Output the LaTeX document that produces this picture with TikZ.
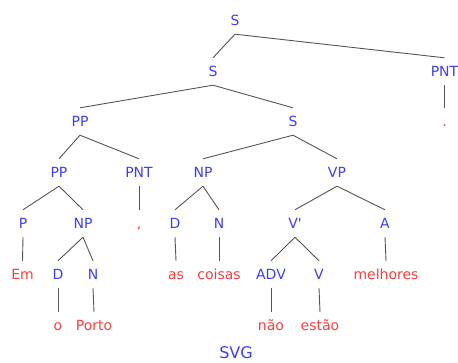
\documentclass[tikz,border=0pt]{standalone}
\usepackage{fontspec}
\setmainfont{DejaVu Sans}
\definecolor{ntblue}{RGB}{60,60,255}
\definecolor{twred}{RGB}{255,60,60}
\definecolor{edgegray}{RGB}{85,85,85}
\begin{document}
\begin{tikzpicture}[x=1pt,y=-1pt,
  lab/.style={inner xsep=0pt,inner ysep=8pt,text height=11pt,text depth=0pt,
    font=\fontsize{14}{16}\selectfont},
  nt/.style={lab,text=ntblue},
  tw/.style={lab,text=twred},
  edge/.style={draw=edgegray,line width=0.9pt}]
\useasboundingbox (0,0) rectangle (458,363);
% row 1
\node[nt] (s0) at (235,20.5) {S};
% row 2
\node[nt] (s1) at (213,71.5) {S};
\node[nt] (pnt1) at (444.5,71.5) {PNT};
% row 3
\node[nt] (pp1) at (80,121.5) {PP};
\node[nt] (s2) at (293,121.5) {S};
\node[tw] (dot) at (444.5,121.5) {.};
% row 4
\node[nt] (pp2) at (59,172.5) {PP};
\node[nt] (pnt2) at (139,172.5) {PNT};
\node[nt] (np1) at (203,172.5) {NP};
\node[nt] (vp) at (337,172.5) {VP};
% row 5
\node[nt] (p) at (23,223.5) {P};
\node[nt] (np2) at (83,223.5) {NP};
\node[tw] (comma) at (139,223.5) {,};
\node[nt] (d1) at (175,223.5) {D};
\node[nt] (n1) at (219,223.5) {N};
\node[nt] (vbar) at (295,223.5) {V\textquotesingle};
\node[nt] (a) at (385,223.5) {A};
% row 6
\node[tw] (em) at (22.5,274.5) {Em};
\node[nt] (d2) at (58,274.5) {D};
\node[nt] (n2) at (93,274.5) {N};
\node[tw] (as) at (176,274.5) {as};
\node[tw] (coisas) at (219,274.5) {coisas};
\node[nt] (adv) at (271,274.5) {ADV};
\node[nt] (v) at (319,274.5) {V};
\node[tw] (melhores) at (386,274.5) {melhores};
% row 7
\node[tw] (o) at (58,325.5) {o};
\node[tw] (porto) at (94,325.5) {Porto};
\node[tw] (nao) at (271,325.5) {não};
\node[tw] (estao) at (320,325.5) {estão};
% caption
\node[text=ntblue,inner sep=0pt,font=\fontsize{16}{18}\selectfont] (cap) at (236,353) {SVG};
% edges
\foreach \a/\b in {s0/s1,s0/pnt1,pnt1/dot,s1/pp1,s1/s2,pp1/pp2,pp1/pnt2,s2/np1,s2/vp,
  pp2/p,pp2/np2,pnt2/comma,np1/d1,np1/n1,vp/vbar,vp/a,
  p/em,np2/d2,np2/n2,d1/as,n1/coisas,vbar/adv,vbar/v,a/melhores,
  d2/o,n2/porto,adv/nao,v/estao}
  \draw[edge] (\a.south) -- (\b.north);
\end{tikzpicture}
\end{document}
